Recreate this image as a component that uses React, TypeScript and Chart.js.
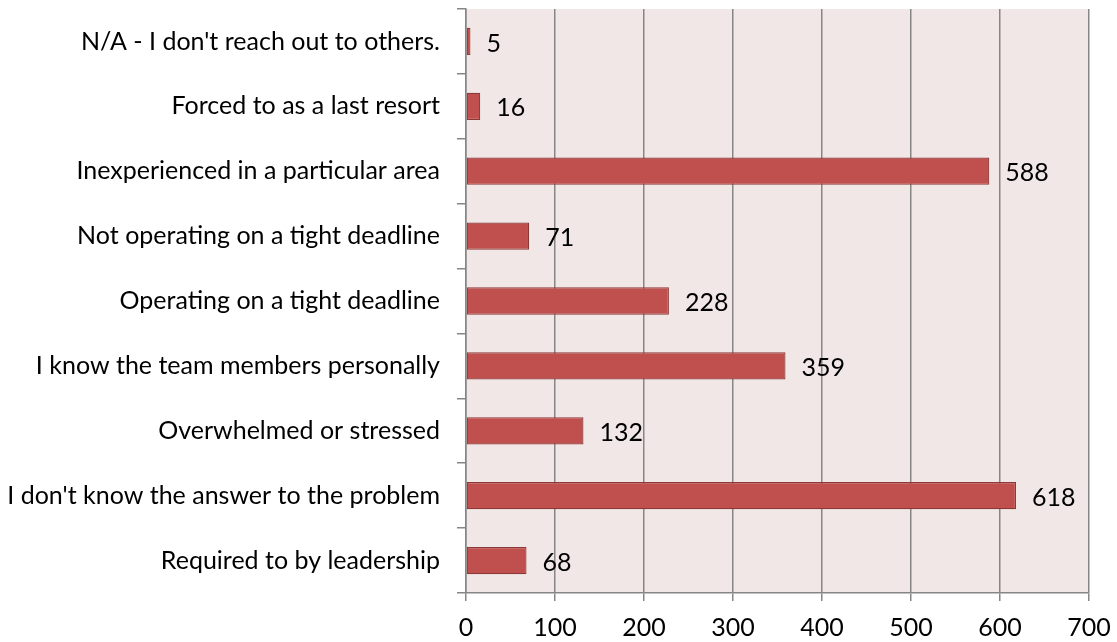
import React, { useEffect, useRef } from "react";
import { Chart, registerables } from "chart.js";

Chart.register(...registerables);

const categories = [
  "N/A - I don't reach out to others.",
  "Forced to as a last resort",
  "Inexperienced in a particular area",
  "Not operating on a tight deadline",
  "Operating on a tight deadline",
  "I know the team members personally",
  "Overwhelmed or stressed",
  "I don't know the answer to the problem",
  "Required to by leadership",
];
const values = [5, 16, 588, 71, 228, 359, 132, 618, 68];
const xMin = 0;
const xMax = 700;
const xStep = 100;

const FONT = "Lato, 'Open Sans', sans-serif";
const FONT_SIZE = 25;

export default function App() {
  const ref = useRef<HTMLCanvasElement | null>(null);

  useEffect(() => {
    document.body.style.margin = "0";
    const canvas = ref.current;
    if (!canvas) return;

    const bgPlugin = {
      id: "plotBg",
      beforeDraw(chart: any) {
        const { ctx, chartArea } = chart;
        ctx.save();
        ctx.fillStyle = "#f2e7e7";
        ctx.fillRect(chartArea.left, chartArea.top, chartArea.right - chartArea.left, chartArea.bottom - chartArea.top);
        ctx.restore();
      },
    };

    const labelPlugin = {
      id: "valueLabels",
      afterDatasetsDraw(chart: any) {
        const { ctx } = chart;
        const meta = chart.getDatasetMeta(0);
        ctx.save();
        ctx.fillStyle = "#000";
        ctx.font = `${FONT_SIZE}px ${FONT}`;
        ctx.textAlign = "left";
        ctx.textBaseline = "middle";
        meta.data.forEach((bar: any, i: number) => {
          ctx.fillText(String(values[i]), bar.x + 16, bar.y + 2);
        });
        ctx.restore();
      },
    };

    const chart = new Chart(canvas, {
      type: "bar",
      data: {
        labels: categories,
        datasets: [
          {
            data: values,
            backgroundColor: "#c0504d",
            borderColor: "#8c3836",
            borderWidth: 1.2,
            borderSkipped: false,
            barPercentage: 0.42,
            categoryPercentage: 1,
          },
        ],
      },
      options: {
        indexAxis: "y",
        animation: false,
        responsive: false,
        maintainAspectRatio: false,
        layout: { padding: { top: 9, right: 28, left: 0, bottom: 0 } },
        plugins: {
          legend: { display: false },
          tooltip: { enabled: false },
        },
        scales: {
          x: {
            min: xMin,
            max: xMax,
            afterFit(scale: any) {
              scale.height = 49;
              scale.paddingRight = 0;
              scale.paddingLeft = 0;
            },
            ticks: {
              stepSize: xStep,
              color: "#000",
              font: { family: FONT, size: FONT_SIZE },
              padding: 12,
              maxRotation: 0,
            },
            grid: {
              color: "#868686",
              lineWidth: 1.5,
              drawTicks: true,
              tickLength: 8,
            },
            border: { display: true, color: "#868686", width: 1.5 },
          },
          y: {
            afterFit(scale: any) {
              scale.width = 466;
              scale.paddingTop = 0;
              scale.paddingBottom = 0;
            },
            ticks: {
              color: "#000",
              font: { family: FONT, size: FONT_SIZE },
              padding: 17,
              autoSkip: false,
            },
            grid: {
              offset: true,
              drawOnChartArea: false,
              drawTicks: true,
              tickLength: 9,
              color: "#868686",
              lineWidth: 1.5,
            },
            border: { display: true, color: "#868686", width: 1.5 },
          },
        },
      },
      plugins: [bgPlugin, labelPlugin],
    } as any);

    return () => chart.destroy();
  }, []);

  return (
    <div style={{ position: "absolute", left: 0, top: 0, width: 1117, height: 642 }}>
      <canvas ref={ref} width={1117} height={642} style={{ width: 1117, height: 642 }} />
    </div>
  );
}
